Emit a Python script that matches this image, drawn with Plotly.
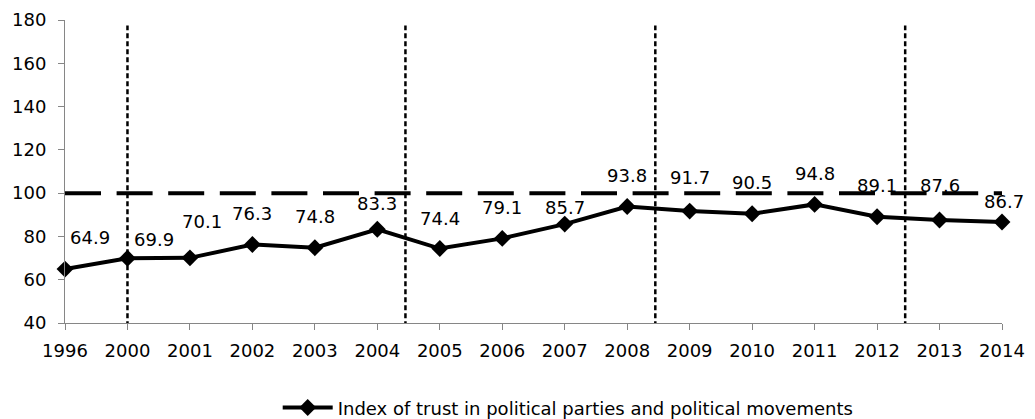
import plotly.graph_objects as go

years = ["1996", "2000", "2001", "2002", "2003", "2004", "2005", "2006",
         "2007", "2008", "2009", "2010", "2011", "2012", "2013", "2014"]
trust_index = [64.9, 69.9, 70.1, 76.3, 74.8, 83.3, 74.4, 79.1,
               85.7, 93.8, 91.7, 90.5, 94.8, 89.1, 87.6, 86.7]
reference_level = 100
period_breaks = [1, 5.45, 9.45, 13.45]   # category positions of dashed dividers
series_name = "Index of trust in political parties and political movements"

# label offsets (pixels) relative to each point
label_dx = [25, 27, 12, 0, 0, 0, 0, 0, 0, 0, 0, 0, 0, 0, 0, 2]
label_dy = [32, 19, 36, 31, 31, 26, 30, 31, 17, 31, 34, 31, 31, 31, 34, 20]

FONT = "DejaVu Sans"
FS = 18
xs = list(range(len(years)))

fig = go.Figure()
fig.add_trace(go.Scatter(
    x=xs, y=trust_index, mode="lines+markers", name=series_name,
    line=dict(color="black", width=4),
    marker=dict(symbol="diamond", size=13, color="black"),
    cliponaxis=False,
))

for x, v, dx, dy in zip(xs, trust_index, label_dx, label_dy):
    fig.add_annotation(x=x, y=v, text=f"{v:.1f}", showarrow=False,
                       xshift=dx, yshift=dy, yanchor="middle",
                       font=dict(family=FONT, size=FS, color="black"))

for b in period_breaks:
    fig.add_shape(type="line", xref="x", yref="y", x0=b, x1=b, y0=38.5, y1=177.5,
                  line=dict(color="black", width=2.5, dash="5px,3px"))

fig.add_shape(type="line", xref="paper", yref="y", x0=0, x1=1.0,
              y0=reference_level, y1=reference_level,
              line=dict(color="black", width=4, dash="36px,15.6px"))

fig.update_layout(
    width=1035, height=419,
    margin=dict(l=65, r=33, t=20, b=96, autoexpand=False),
    paper_bgcolor="white", plot_bgcolor="white",
    font=dict(family=FONT, size=FS, color="black"),
    showlegend=True,
    legend=dict(orientation="h", x=0.227, y=-0.28, xanchor="left", yanchor="middle",
                font=dict(family=FONT, size=FS), itemwidth=50),
)
fig.update_xaxes(range=[0, 15], tickmode="array", tickvals=xs, ticktext=years,
                 showgrid=False, zeroline=False, showline=True,
                 linecolor="#868686", linewidth=1, ticks="outside",
                 ticklen=6, tickcolor="#868686", ticklabelstandoff=5,
                 tickfont=dict(family=FONT, size=FS))
fig.update_yaxes(range=[40, 180], dtick=20, tick0=40,
                 showgrid=False, zeroline=False, showline=True,
                 linecolor="#868686", linewidth=1, ticks="outside",
                 ticklen=6, tickcolor="#868686", ticklabelstandoff=8,
                 tickfont=dict(family=FONT, size=FS))

fig.write_html("out.html")
